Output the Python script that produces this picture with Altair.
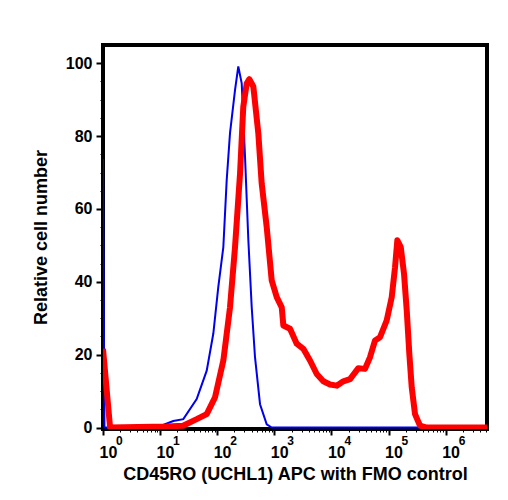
import altair as alt
import pandas as pd

# FMO control (blue): fluorescence intensity and relative cell number
fmo_x = [1.0, 1.06, 8.7, 17, 25.5, 43.7, 65.5, 85.5, 104.5, 128, 146.6, 167.5, 205, 234,
         268.5, 307, 351, 402, 459, 562, 736, 900, 5.3e6]
fmo_y = [73.8, 0, 0, 1.8, 2.3, 7.8, 15.6, 25.8, 38.6, 49.5, 67.9, 80.8, 92.6, 99.1,
         94.5, 74.3, 51.4, 33, 19.3, 6.4, 0.9, 0, 0]

# CD45RO (UCHL1) APC stained (red)
cd_x = [1.0, 1.33, 13, 25.2, 43.7, 65.5, 91.5, 128, 167.5, 205, 251, 286, 329, 365, 429,
        525, 601, 736, 900, 1102, 1349, 1439, 1884, 2467, 3221, 4220, 5530, 7215, 9440,
        12390, 16150, 21180, 29600, 38730, 47400, 58040, 71000, 92950, 113800, 130000,
        142600, 163700, 186800, 208400, 231400, 254900, 291000, 356300, 467000, 5.3e6]
cd_y = [21.6, 0, 0.3, 0.5, 2.3, 3.7, 8.3, 18.4, 33, 49.5, 69.7, 88, 94.5, 95.6, 93.6,
        80.7, 67, 55, 40.4, 35.8, 33, 28, 27.1, 23, 21.6, 18.4, 14.7, 12.7, 11.8,
        11.5, 12.7, 13.3, 16.3, 16.1, 19.3, 23.9, 24.8, 29.4, 35.8, 44, 51.4, 49.5,
        42.2, 32.1, 20.2, 11, 3.7, 0.5, 0, 0]

decades = [1, 10, 100, 1000, 10000, 100000, 1000000]
exponents = ["0", "1", "2", "3", "4", "5", "6"]
x_minor = [m * d for d in decades for m in range(2, 10) if m * d <= 5.3e6]
y_major = [0, 20, 40, 60, 80, 100]
y_minor = [5, 10, 15, 25, 30, 35, 45, 50, 55, 65, 70, 75, 85, 90, 95]

FONT = "Liberation Sans"

fmo = pd.DataFrame({"x": fmo_x, "y": fmo_y})
cd = pd.DataFrame({"x": cd_x, "y": cd_y})
exp_df = pd.DataFrame({"x": decades, "t": exponents})

xscale = alt.Scale(type="log", domain=[1, 5.3e6], nice=False)
yscale = alt.Scale(domain=[-0.4, 105], nice=False, zero=False)

xaxis = alt.Axis(
    orient="bottom", values=decades, labelExpr="'10'",
    tickSize=6, tickWidth=2, tickColor="black", domainColor="black", domainWidth=2,
    labelFont=FONT, labelFontSize=16, labelFontWeight="bold", labelColor="black",
    labelAlign="left", labelBaseline="alphabetic", labelOffset=-4, labelPadding=22,
    labelOverlap=False, labelFlush=False,
    title="CD45RO (UCHL1) APC with FMO control",
    titleFont=FONT, titleFontSize=18, titleFontWeight="bold", titleColor="black",
    titlePadding=5, grid=False,
)
yaxis = alt.Axis(
    orient="left", values=y_major,
    tickSize=7, tickWidth=2, tickColor="black", domainColor="black", domainWidth=2,
    labelFont=FONT, labelFontSize=16, labelFontWeight="bold", labelColor="black",
    labelPadding=4, labelOverlap=False, labelFlush=False,
    title="Relative cell number",
    titleFont=FONT, titleFontSize=18, titleFontWeight="bold", titleColor="black",
    titlePadding=15, grid=False,
)
xaxis_minor = alt.Axis(
    orient="bottom", values=x_minor, labels=False, domain=False,
    tickSize=3, tickWidth=1, tickColor="black", title=None, grid=False,
)
yaxis_minor = alt.Axis(
    orient="left", values=y_minor, labels=False, domain=False,
    tickSize=3, tickWidth=1, tickColor="black", title=None, grid=False,
)

blue = alt.Chart(fmo).mark_line(color="#0000ee", strokeWidth=2, clip=True).encode(
    x=alt.X("x:Q", scale=xscale, axis=xaxis),
    y=alt.Y("y:Q", scale=yscale, axis=yaxis),
)
red = alt.Chart(cd).mark_line(color="#ff0000", strokeWidth=6, clip=True, strokeJoin="round").encode(
    x=alt.X("x:Q", scale=xscale, axis=xaxis_minor),
    y=alt.Y("y:Q", scale=yscale, axis=yaxis_minor),
)
sup = alt.Chart(exp_df).mark_text(
    align="left", baseline="alphabetic", dx=13, font=FONT, fontSize=12,
    fontWeight="bold", color="black",
).encode(
    x=alt.X("x:Q", scale=xscale, axis=None),
    y=alt.value(400),
    text="t:N",
)

chart = alt.layer(blue, red, sup).resolve_axis(
    x="independent", y="independent"
).properties(
    width=384, height=384,
    autosize="none",
    background="white",
    padding={"left": 103, "top": 45, "right": 21, "bottom": 71},
).configure_view(stroke="black", strokeWidth=4)

chart.save("out.html", embed_options={"renderer": "svg", "actions": False})
